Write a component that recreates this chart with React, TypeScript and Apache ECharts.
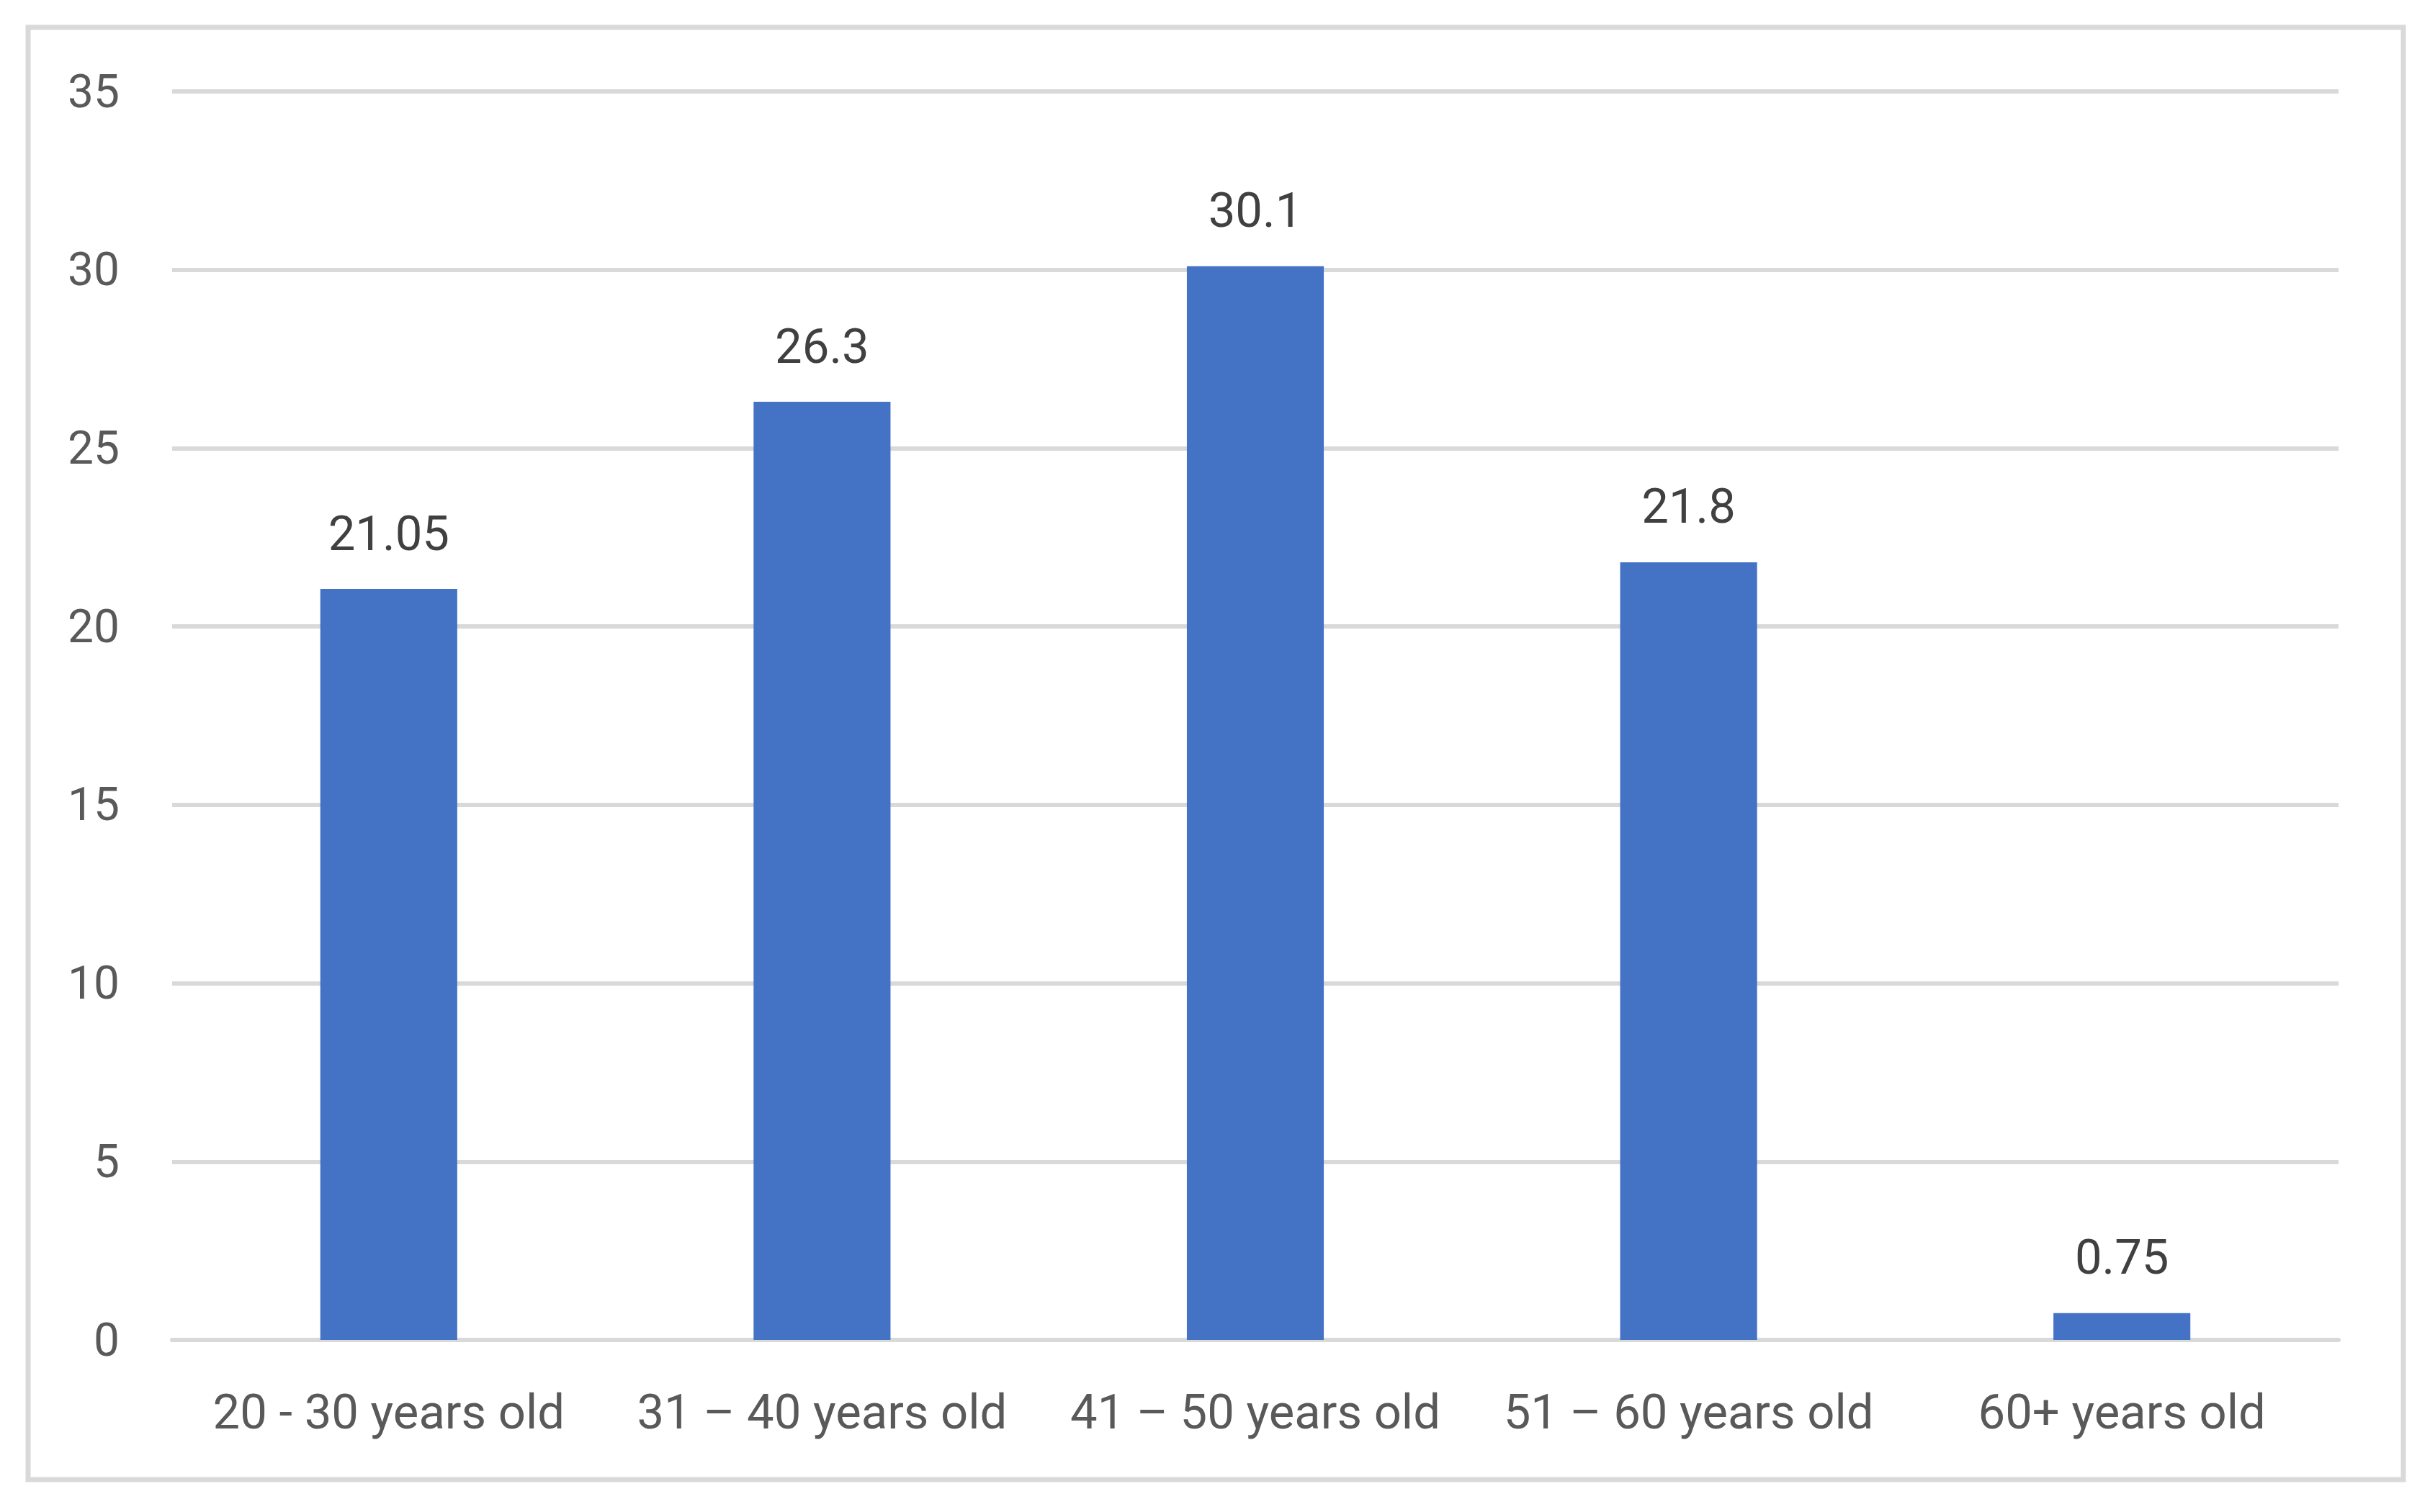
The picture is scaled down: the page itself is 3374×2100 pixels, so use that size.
import React, { useEffect, useRef } from "react";
import * as echarts from "echarts";

const categories = [
  "20 - 30 years old",
  "31 \u2013 40 years old",
  "41 \u2013 50 years old",
  "51 \u2013 60 years old",
  "60+ years old",
];
const values = [21.05, 26.3, 30.1, 21.8, 0.75];
const yMin = 0;
const yMax = 35;
const yStep = 5;

export default function App() {
  const ref = useRef<HTMLDivElement>(null);
  useEffect(() => {
    if (!ref.current) return;
    const chart = echarts.init(ref.current, null, { renderer: "svg" });
    const font = "Roboto";
    chart.setOption({
      animation: false,
      backgroundColor: "#ffffff",
      graphic: [
        {
          type: "rect",
          shape: { x: 39, y: 38, width: 3298, height: 2017 },
          style: { fill: "none", stroke: "#d9d9d9", lineWidth: 7 },
          silent: true,
        },
      ],
      grid: { left: 239, right: 3374 - 3247, top: 127, bottom: 2100 - 1861, containLabel: false },
      xAxis: {
        type: "category",
        data: categories,
        axisLine: { show: true, lineStyle: { color: "#d9d9d9", width: 6 } },
        axisTick: { show: false },
        axisLabel: {
          color: "#595959",
          fontFamily: font,
          fontSize: 67,
          margin: 66,
          interval: 0,
          hideOverlap: false,
        },
      },
      yAxis: {
        type: "value",
        min: yMin,
        max: yMax,
        interval: yStep,
        axisLine: { show: false },
        axisTick: { show: false },
        splitLine: { lineStyle: { color: "#d9d9d9", width: 6 } },
        axisLabel: { color: "#595959", fontFamily: font, fontSize: 64, margin: 73 },
      },
      series: [
        {
          type: "bar",
          data: values,
          barWidth: "31.6%",
          itemStyle: { color: "#4472C4" },
          label: {
            show: true,
            position: "top",
            distance: 44,
            color: "#404040",
            fontFamily: font,
            fontSize: 67,
          },
        },
      ],
    });
    return () => chart.dispose();
  }, []);
  return (
    <div
      ref={ref}
      style={{ position: "fixed", left: 0, top: 0, width: 3374, height: 2100 }}
    />
  );
}
